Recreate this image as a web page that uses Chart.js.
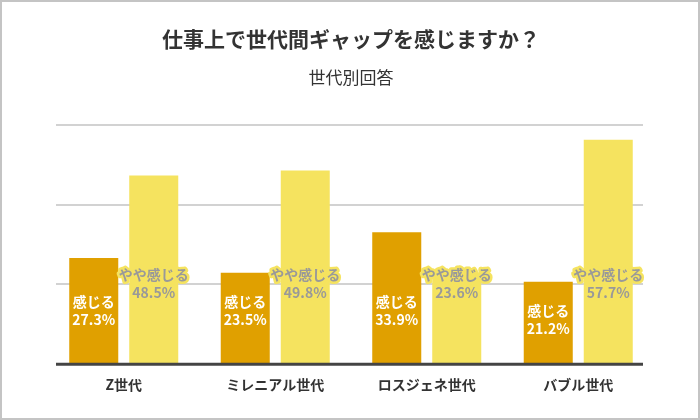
<!DOCTYPE html>
<html lang="ja">
<head>
<meta charset="utf-8">
<script src="https://cdn.jsdelivr.net/npm/chart.js@4.4.1/dist/chart.umd.min.js"></script>
<style>
  html, body { margin: 0; padding: 0; background: #fff; }
  #wrap { width: 700px; height: 420px; position: relative; }
</style>
</head>
<body>
<div id="wrap"><canvas id="chart"></canvas></div>
<script>
// data
const categories = ["Z世代", "ミレニアル世代", "ロスジェネ世代", "バブル世代"];
const seriesNames = ["感じる", "やや感じる"];
const feelValues = [27.3, 23.5, 33.9, 21.2];
const somewhatValues = [48.5, 49.8, 23.6, 57.7];
const gridValues = [20.5, 41, 61.5];

const FONT = "'Noto Sans CJK JP', 'Noto Sans', sans-serif";
Chart.defaults.font.family = FONT;

// white background + thin frame around the picture
const frame = {
  id: "frame",
  beforeDraw(chart) {
    const ctx = chart.ctx;
    ctx.save();
    ctx.fillStyle = "#fff";
    ctx.fillRect(0, 0, chart.width, chart.height);
    ctx.restore();
  },
  afterDraw(chart) {
    const ctx = chart.ctx;
    ctx.save();
    ctx.strokeStyle = "#c4c4c4";
    ctx.lineWidth = 2;
    ctx.strokeRect(1, 1, chart.width - 2, chart.height - 2);
    ctx.restore();
  }
};

// horizontal grid lines behind the bars, a bit shorter than the chart area
const gridLines = {
  id: "gridLines",
  beforeDatasetsDraw(chart) {
    const { ctx, chartArea, scales: { y } } = chart;
    ctx.save();
    ctx.strokeStyle = "#d2d2d2";
    ctx.lineWidth = 2;
    gridValues.forEach(v => {
      const py = Math.round(y.getPixelForValue(v));
      ctx.beginPath();
      ctx.moveTo(chartArea.left + 8, py);
      ctx.lineTo(chartArea.right - 11, py);
      ctx.stroke();
    });
    ctx.restore();
  },
  afterDatasetsDraw(chart) {
    const { ctx, chartArea, scales: { y } } = chart;
    const py = y.getPixelForValue(0);
    ctx.save();
    ctx.strokeStyle = "#444";
    ctx.lineWidth = 3;
    ctx.beginPath();
    ctx.moveTo(chartArea.left + 8, py);
    ctx.lineTo(chartArea.right - 11, py);
    ctx.stroke();
    ctx.restore();
  }
};

// two-line value labels
const barLabels = {
  id: "barLabels",
  afterDatasetsDraw(chart) {
    const ctx = chart.ctx;
    ctx.save();
    ctx.font = "bold 14px " + FONT;
    ctx.textAlign = "center";
    ctx.textBaseline = "middle";
    ctx.lineJoin = "round";
    chart.data.datasets.forEach((ds, di) => {
      const meta = chart.getDatasetMeta(di);
      meta.data.forEach((bar, i) => {
        const name = seriesNames[di];
        const val = ds.data[i].toFixed(1) + "%";
        let cy;
        if (di === 0) {
          cy = Math.max(bar.base - 54, bar.y + 38);
          ctx.fillStyle = "#fff";
          ctx.fillText(name, bar.x, cy - 9);
          ctx.fillText(val, bar.x, cy + 9);
        } else {
          cy = bar.base - 81;
          ctx.strokeStyle = ds.backgroundColor;
          ctx.lineWidth = 5;
          ctx.strokeText(name, bar.x, cy - 9);
          ctx.strokeText(val, bar.x, cy + 9);
          ctx.fillStyle = "#999";
          ctx.fillText(name, bar.x, cy - 9);
          ctx.fillText(val, bar.x, cy + 9);
        }
      });
    });
    ctx.restore();
  }
};

const chart = new Chart(document.getElementById("chart"), {
  type: "bar",
  data: {
    labels: categories,
    datasets: [
      {
        label: seriesNames[0],
        data: feelValues,
        backgroundColor: "#E0A000",
        categoryPercentage: 0.792,
        barPercentage: 0.817
      },
      {
        label: seriesNames[1],
        data: somewhatValues,
        backgroundColor: "#F5E35F",
        categoryPercentage: 0.792,
        barPercentage: 0.817
      }
    ]
  },
  options: {
    responsive: true,
    maintainAspectRatio: false,
    animation: false,
    layout: { padding: { top: 0, left: 48, right: 46, bottom: 15 } },
    plugins: {
      legend: { display: false },
      tooltip: { enabled: false },
      title: {
        display: true,
        text: "仕事上で世代間ギャップを感じますか？",
        color: "#333",
        font: { size: 21, weight: "bold", lineHeight: 1.2 },
        padding: { top: 26, bottom: 0 }
      },
      subtitle: {
        display: true,
        text: "世代別回答",
        color: "#333",
        font: { size: 17, weight: "normal", lineHeight: 1.2 },
        padding: { top: 16, bottom: 37.3 }
      }
    },
    scales: {
      x: {
        grid: { display: false, drawTicks: false },
        border: { display: false },
        ticks: {
          color: "#333",
          padding: 12,
          font: { size: 14, weight: "bold", lineHeight: 1.2 }
        }
      },
      y: {
        display: false,
        min: 0,
        max: 61.5,
        ticks: { stepSize: 20.5 }
      }
    }
  },
  plugins: [frame, gridLines, barLabels]
});
</script>
</body>
</html>
